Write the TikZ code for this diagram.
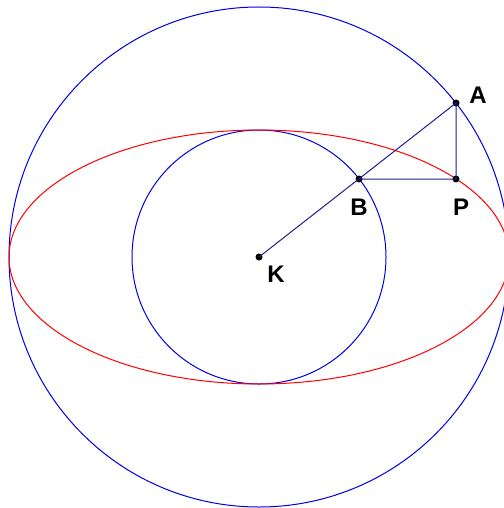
\documentclass[tikz,border=0pt]{standalone}
\usepackage{fontspec}
\setmainfont{Liberation Sans}
\begin{document}
\begin{tikzpicture}[x=1pt,y=-1pt,
  bluec/.style={draw={rgb,255:red,0;green,0;blue,230},line width=1pt},
  redc/.style={draw={rgb,255:red,255;green,0;blue,0},line width=1pt},
  seg/.style={draw={rgb,255:red,30;green,30;blue,140},line width=1pt},
  pt/.style={circle,fill=black,inner sep=0pt,minimum size=7pt},
  lbl/.style={font=\fontsize{24}{24}\selectfont\bfseries,inner sep=0pt}]
\useasboundingbox (0,0) rectangle (503,508);
\coordinate (K) at (259,257);
\path[bluec] (K) circle[radius=250];
\path[bluec] (K) circle[radius=127];
\path[redc] (K) ellipse[x radius=250,y radius=127];
\node[pt] (k) at (K) {};
\node[pt] (a) at (456,103) {};
\node[pt] (b) at (359,179) {};
\node[pt] (p) at (456,179) {};
\path[seg] (k.center) -- (a.center) -- (p.center) -- (b.center);
\node[lbl] (la) at (478,95) {A};
\node[lbl] (lb) at (359,207) {B};
\node[lbl] (lp) at (461,207) {P};
\node[lbl] (lk) at (276,274) {K};
\end{tikzpicture}
\end{document}
